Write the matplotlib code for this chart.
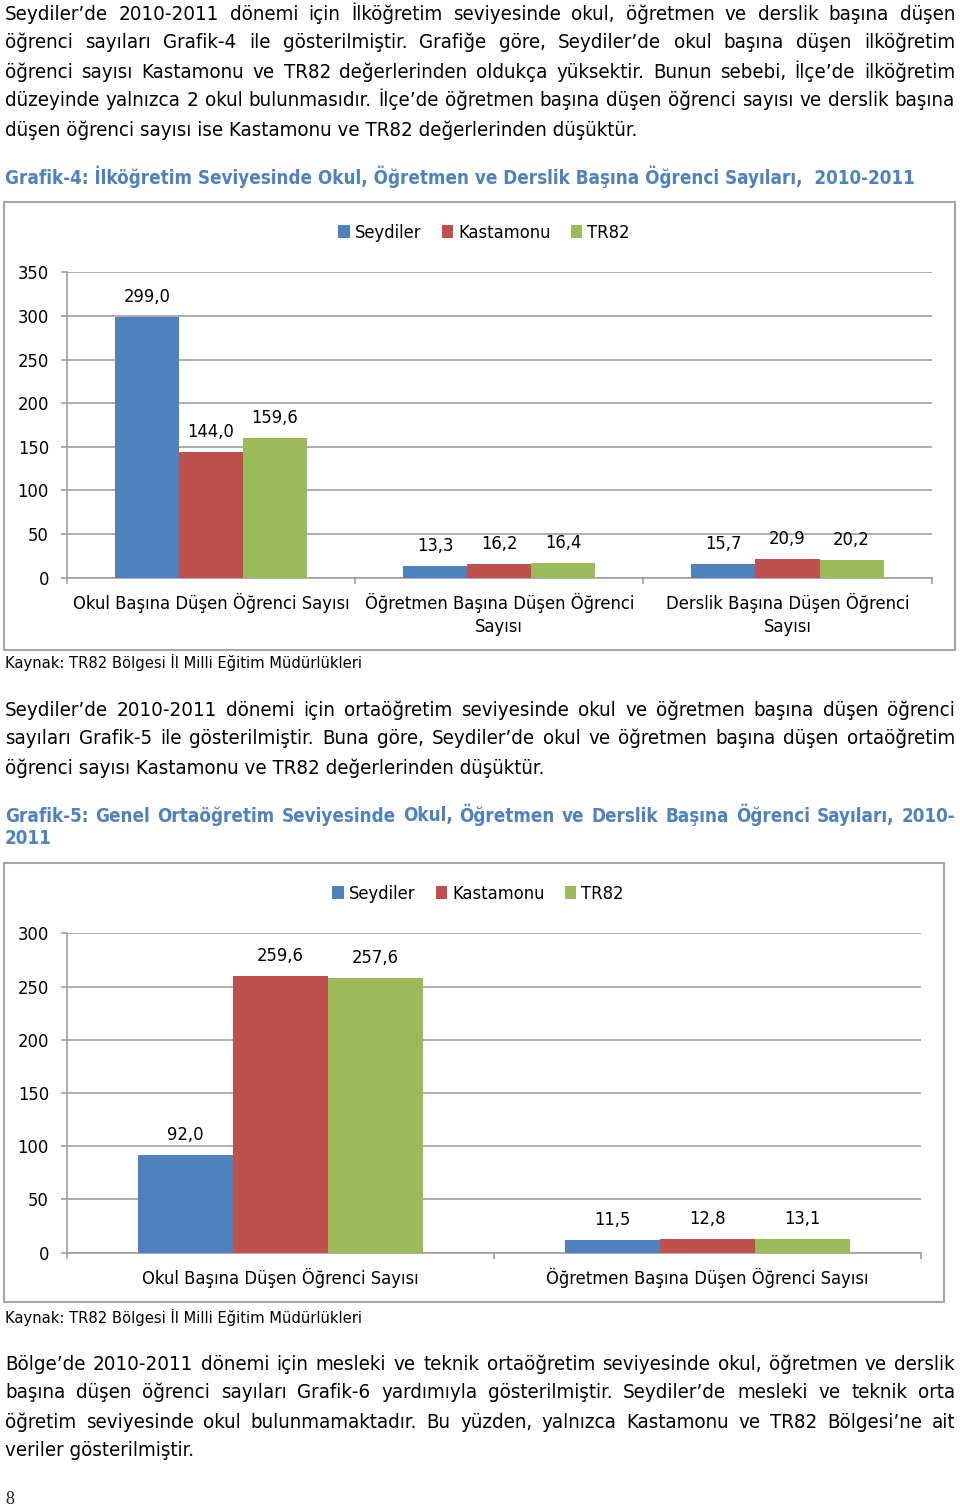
import os
import numpy as np
import matplotlib
matplotlib.use('Agg')
import matplotlib.pyplot as plt
import matplotlib.font_manager as fm
from matplotlib.patches import Rectangle

# %%
# data
series = ['Seydiler', 'Kastamonu', 'TR82']
colors = ['#4F81BD', '#C0504D', '#9BBB59']

g4_categories = ['Okul Başına Düşen Öğrenci Sayısı',
                 'Öğretmen Başına Düşen Öğrenci\nSayısı',
                 'Derslik Başına Düşen Öğrenci\nSayısı']
g4_seydiler = [299.0, 13.3, 15.7]
g4_kastamonu = [144.0, 16.2, 20.9]
g4_tr82 = [159.6, 16.4, 20.2]
g4_yticks = [0, 50, 100, 150, 200, 250, 300, 350]

g5_categories = ['Okul Başına Düşen Öğrenci Sayısı',
                 'Öğretmen Başına Düşen Öğrenci Sayısı']
g5_seydiler = [92.0, 11.5]
g5_kastamonu = [259.6, 12.8]
g5_tr82 = [257.6, 13.1]
g5_yticks = [0, 50, 100, 150, 200, 250, 300]

source_text = 'Kaynak: TR82 Bölgesi İl Milli Eğitim Müdürlükleri'

para1 = ['Seydiler’de 2010-2011 dönemi için İlköğretim seviyesinde okul, öğretmen ve derslik başına düşen',
         'öğrenci sayıları Grafik-4 ile gösterilmiştir. Grafiğe göre, Seydiler’de okul başına düşen ilköğretim',
         'öğrenci sayısı Kastamonu ve TR82 değerlerinden oldukça yüksektir. Bunun sebebi, İlçe’de ilköğretim',
         'düzeyinde yalnızca 2 okul bulunmasıdır. İlçe’de öğretmen başına düşen öğrenci sayısı ve derslik başına',
         'düşen öğrenci sayısı ise Kastamonu ve TR82 değerlerinden düşüktür.']
title4 = 'Grafik-4: İlköğretim Seviyesinde Okul, Öğretmen ve Derslik Başına Öğrenci Sayıları,  2010-2011'
para2 = ['Seydiler’de 2010-2011 dönemi için ortaöğretim seviyesinde okul ve öğretmen başına düşen öğrenci',
         'sayıları Grafik-5 ile gösterilmiştir. Buna göre, Seydiler’de okul ve öğretmen başına düşen ortaöğretim',
         'öğrenci sayısı Kastamonu ve TR82 değerlerinden düşüktür.']
title5 = ['Grafik-5: Genel Ortaöğretim Seviyesinde Okul, Öğretmen ve Derslik Başına Öğrenci Sayıları, 2010-',
          '2011']
para3 = ['Bölge’de 2010-2011 dönemi için mesleki ve teknik ortaöğretim seviyesinde okul, öğretmen ve derslik',
         'başına düşen öğrenci sayıları Grafik-6 yardımıyla gösterilmiştir. Seydiler’de mesleki ve teknik orta',
         'öğretim seviyesinde okul bulunmamaktadır. Bu yüzden, yalnızca Kastamonu ve TR82 Bölgesi’ne ait',
         'veriler gösterilmiştir.']

# %%
# fonts: Tahoma-ish -> DejaVu Sans Condensed if it is there
def font_file(bold):
    want = 'DejaVuSansCondensed-Bold.ttf' if bold else 'DejaVuSansCondensed.ttf'
    for f in fm.fontManager.ttflist:
        if os.path.basename(f.fname) == want:
            return f.fname
    return None

reg_file = font_file(False)
bold_file = font_file(True)

def make_fp(size, bold=False):
    path = bold_file if bold else reg_file
    if path:
        return fm.FontProperties(fname=path, size=size)
    return fm.FontProperties(family='DejaVu Sans', weight='bold' if bold else 'normal',
                             size=size)

W, H = 960, 1511
fig = plt.figure(figsize=(W / 100, H / 100), dpi=100)
renderer = fig.canvas.get_renderer()

def fit_size(sample, target_px, bold=False):
    t = fig.text(0, 0, sample, fontproperties=make_fp(10, bold))
    w = t.get_window_extent(renderer).width
    t.remove()
    return 10 * target_px / w

fp_body = make_fp(fit_size(para1[-1], 636))
fp_head = make_fp(fit_size(title4, 908, bold=True), bold=True)
fp_chart = make_fp(fit_size(g4_categories[0], 278))
fp_src = make_fp(fit_size(source_text, 356))

head_color = '#4F81BD'
grid_color = '#A0A0A0'

# %%
# page layer in pixel coords
page = fig.add_axes([0, 0, 1, 1])
page.set_xlim(0, W)
page.set_ylim(H, 0)
page.axis('off')

def baseline(y, fp):
    # y is the middle of an 'lp' line box -> baseline position
    _, h, d = renderer.get_text_width_height_descent('lp', fp, ismath=False)
    return y + h / 2 - d

def put_line(txt, y, justify, fp, color='black', x0=5, x1=955):
    yb = baseline(y, fp)
    if not justify:
        page.text(x0, yb, txt, fontproperties=fp, color=color, ha='left', va='baseline')
        return
    words = txt.split()
    arts = [page.text(0, yb, w, fontproperties=fp, color=color, ha='left', va='baseline')
            for w in words]
    widths = [a.get_window_extent(renderer).width for a in arts]
    gap = (x1 - x0 - sum(widths)) / (len(words) - 1)
    x = x0
    for a, w in zip(arts, widths):
        a.set_x(x)
        x += w + gap

def put_para(lines, y0, step=29, fp=None, color='black'):
    for i, line in enumerate(lines):
        put_line(line, y0 + i * step, i < len(lines) - 1, fp or fp_body, color)

put_para(para1, 14)
put_line(title4, 178, False, fp_head, head_color)
put_para(para2, 710)
put_para(title5, 816, step=23, fp=fp_head, color=head_color)
put_para(para3, 1364)

page.text(5, 662, source_text, fontproperties=fp_src, ha='left', va='center')
page.text(5, 1317, source_text, fontproperties=fp_src, ha='left', va='center')
page.text(5, 1500, '8', family='Liberation Serif', fontsize=13, ha='left', va='center',
          color='#222222')

# chart frames
page.add_patch(Rectangle((4, 202), 951, 448, fill=False, ec='#A6A6A6', lw=1.5))
page.add_patch(Rectangle((4, 863), 940, 439, fill=False, ec='#A6A6A6', lw=1.5))

# %%
def px_rect(x0, y0, x1, y1):
    return [x0 / W, 1 - y1 / H, (x1 - x0) / W, (y1 - y0) / H]

def draw_chart(rect, cats, vals, yticks, legend_xy):
    ax = fig.add_axes(px_rect(*rect))
    ax.set_facecolor('none')
    n = len(cats)
    bw = 2 / 9
    x = np.arange(n) + 0.5
    for i, (name, v, c) in enumerate(zip(series, vals, colors)):
        xs = x + (i - 1) * bw
        ax.bar(xs, v, bw, color=c, label=name, zorder=3)
        for xi, vi in zip(xs, v):
            ax.annotate(f'{vi:.1f}'.replace('.', ','), (xi, vi), xytext=(0, 14.4),
                        textcoords='offset points', ha='center', va='center',
                        fontproperties=fp_chart)
    ax.set_xlim(0, n)
    ax.set_ylim(0, yticks[-1])
    ax.set_yticks(yticks)
    ax.set_yticklabels([str(t) for t in yticks], fontproperties=fp_chart)
    ax.set_xticks(x)
    ax.set_xticklabels(cats, fontproperties=fp_chart, linespacing=1.35)
    ax.set_xticks(np.arange(n + 1), minor=True)
    ax.tick_params(axis='x', which='major', length=0, pad=11)
    ax.tick_params(axis='x', which='minor', length=4.3, width=1.2, color=grid_color)
    ax.tick_params(axis='y', length=4.3, width=1.2, color=grid_color, pad=8.4)
    ax.grid(axis='y', color=grid_color, lw=1.2)
    ax.set_axisbelow(True)
    for s in ['top', 'right']:
        ax.spines[s].set_visible(False)
    for s in ['left', 'bottom']:
        ax.spines[s].set_color(grid_color)
        ax.spines[s].set_linewidth(1.2)
    ax.legend(loc='center', bbox_to_anchor=(legend_xy[0] / W, 1 - legend_xy[1] / H),
              bbox_transform=fig.transFigure, ncol=3, frameon=False, prop=fp_chart,
              handlelength=0.65, handleheight=0.65, handletextpad=0.25,
              columnspacing=1.1, borderpad=0, borderaxespad=0)
    return ax

draw_chart((66.7, 272.3, 931.7, 577.7), g4_categories,
           [g4_seydiler, g4_kastamonu, g4_tr82], g4_yticks, (484, 233))
draw_chart((66.7, 933.3, 921.0, 1252.7), g5_categories,
           [g5_seydiler, g5_kastamonu, g5_tr82], g5_yticks, (478, 894))

fig.savefig('out.png', dpi=100)
